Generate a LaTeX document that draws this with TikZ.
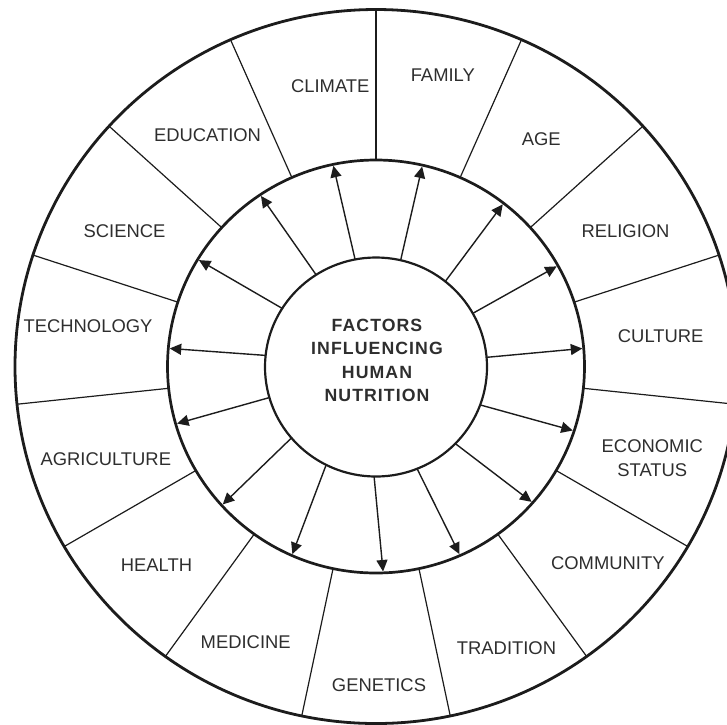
\documentclass[tikz,border=0pt]{standalone}
\usepackage{fontspec}
\setmainfont{Liberation Sans}
\newfontfamily\titlefont[LetterSpace=6]{Liberation Sans}
\usetikzlibrary{shapes.geometric,arrows.meta}
\definecolor{linec}{HTML}{1C1C1C}
\definecolor{textc}{HTML}{2E2E2E}

\begin{document}
\begin{tikzpicture}[x=1pt,y=1pt,
  ring/.style={draw=linec, ellipse, inner sep=0pt, outer sep=0pt},
  divider/.style={draw=linec, line width=1.2pt},
  flow/.style={draw=linec, line width=1.4pt, -{Triangle[length=11.5pt,width=11pt]}, shorten >=1.4pt},
  factor/.style={text=textc, font=\fontsize{18.4}{24}\selectfont, inner sep=0pt, align=center},
]
\useasboundingbox (0,0) rectangle (727,-724);
\clip (0,0) rectangle (727,-724);

% three concentric rings
\coordinate (c) at (376,-366.5);
\node[ring, line width=2.8pt, minimum width=722pt, minimum height=714pt] (outer) at (c) {};
\node[ring, line width=2.7pt, minimum width=417pt, minimum height=413pt] (mid) at (c) {};
\node[ring, line width=2.2pt, minimum width=222pt, minimum height=219pt] (core) at (376,-367) {};

% sector dividers of the outer band
\foreach \a in {18,42,...,354}
  \draw[divider] (mid.\a) -- (outer.\a);

% arrows from the core to the middle ring
\foreach \s/\t in {5.1/5.6, 29.7/29.8, 51.8/52.1, 77/77.7, 101/102.1, 123.9/124.9,
                   148.4/149.5, 174/175.3, 196.2/196.9, 220.8/222.1, 243.8/246.4,
                   269.7/272.2, 292.4/294.6, 316.5/319.2, 340.6/342.3}
  \draw[flow] (core.\s) -- (mid.\t);

% centre title
\node[text=textc, inner sep=0pt, align=center,
      font=\titlefont\bfseries\fontsize{17.7}{23.3}\selectfont] (title) at (377,-360.5)
  {FACTORS\\INFLUENCING\\HUMAN\\NUTRITION};

% factor labels
\node[factor, anchor=base] (climate)     at (330.3,-92.7)  {CLIMATE};
\node[factor, anchor=base] (family)      at (442.8,-81)    {FAMILY};
\node[factor, anchor=base] (education)   at (207.5,-141)   {EDUCATION};
\node[factor, anchor=base] (age)         at (541.3,-145)   {AGE};
\node[factor, anchor=base] (science)     at (124.5,-237.3) {SCIENCE};
\node[factor, anchor=base] (religion)    at (625.5,-237.3) {RELIGION};
\node[factor, anchor=base] (technology)  at (88,-332.3)    {TECHNOLOGY};
\node[factor, anchor=base] (culture)     at (660.7,-342.7) {CULTURE};
\node[factor, anchor=base] (agriculture) at (105.8,-465)   {AGRICULTURE};
\node[factor]              (economic)    at (652.3,-457.7) {ECONOMIC\\STATUS};
\node[factor, anchor=base] (health)      at (156.5,-571.3) {HEALTH};
\node[factor, anchor=base] (community)   at (607.8,-569.3) {COMMUNITY};
\node[factor, anchor=base] (medicine)    at (245.7,-648)   {MEDICINE};
\node[factor, anchor=base] (tradition)   at (506.5,-654.3) {TRADITION};
\node[factor, anchor=base] (genetics)    at (379,-691.3)   {GENETICS};
\end{tikzpicture}
\end{document}
